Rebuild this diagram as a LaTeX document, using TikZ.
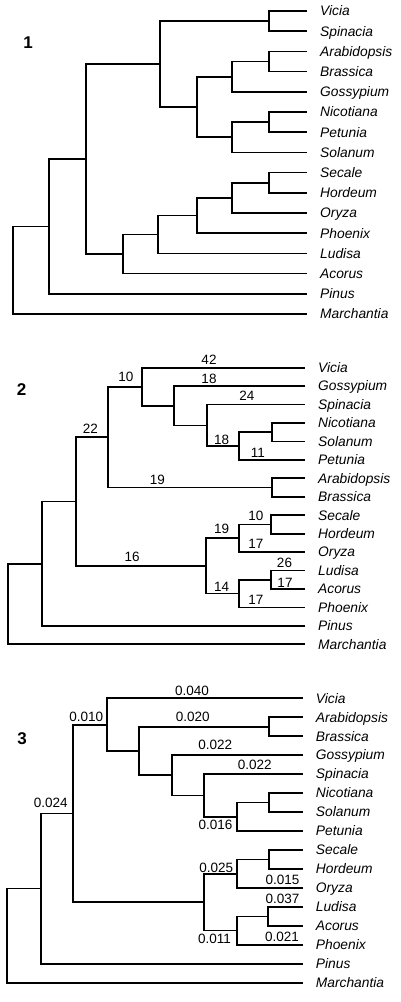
\documentclass[tikz,border=0pt]{standalone}
\usepackage{fontspec}
\setmainfont{Liberation Sans}
\begin{document}
\begin{tikzpicture}[x=1pt,y=-1pt,
  br/.style={line width=1.7pt,line join=miter},
  leaf/.style={anchor=base west,inner sep=0pt,font=\fontsize{13.8}{16}\selectfont\itshape},
  num/.style={anchor=base,inner sep=0pt,font=\fontsize{13.5}{16}\selectfont},
  panel/.style={anchor=base,inner sep=0pt,font=\fontsize{17}{20}\selectfont\bfseries}]
\path[use as bounding box] (0,0) rectangle (400,1002);

% ---------------- Tree 1 ----------------
\foreach \t [count=\i from 0] in {Vicia,Spinacia,Arabidopsis,Brassica,Gossypium,Nicotiana,Petunia,Solanum,Secale,Hordeum,Oryza,Phoenix,Ludisa,Acorus,Pinus,Marchantia}{
  \coordinate (a\i) at ({306.7},{11+20.2*\i});
  \node[leaf] (la\i) at ({320},{11+20.2*\i+4.8}) {\t};
}
\coordinate (aVS) at (269.3,21.1);
\coordinate (aAB) at (269.3,61.5);
\coordinate (aABG) at (232.3,76.65);
\coordinate (aNP) at (269.3,122.1);
\coordinate (aNPS) at (232.3,137.25);
\coordinate (aE2) at (196.7,106.95);
\coordinate (aEU) at (160,64.0);
\coordinate (aSH) at (269.3,182.7);
\coordinate (aSHO) at (232.3,197.85);
\coordinate (aSHOP) at (196.7,215.5);
\coordinate (aSL) at (158.3,234.45);
\coordinate (aMON) at (123.3,254.0);
\coordinate (aANG) at (86,159.0);
\coordinate (aSP) at (49.3,226.4);
\coordinate (aROOT) at (12.7,270.2);
\foreach \p/\c in {aVS/a0,aVS/a1,aAB/a2,aAB/a3,aABG/aAB,aABG/a4,aNP/a5,aNP/a6,aNPS/aNP,aNPS/a7,
  aE2/aABG,aE2/aNPS,aEU/aVS,aEU/aE2,aSH/a8,aSH/a9,aSHO/aSH,aSHO/a10,aSHOP/aSHO,aSHOP/a11,
  aSL/aSHOP,aSL/a12,aMON/aSL,aMON/a13,aANG/aEU,aANG/aMON,aSP/aANG,aSP/a14,aROOT/aSP,aROOT/a15}
  \draw[br] (\p) |- (\c);
\node[panel] (p1) at (28,48.8) {1};

% ---------------- Tree 2 ----------------
\foreach \t [count=\i from 0] in {Vicia,Gossypium,Spinacia,Nicotiana,Solanum,Petunia,Arabidopsis,Brassica,Secale,Hordeum,Oryza,Ludisa,Acorus,Phoenix,Pinus,Marchantia}{
  \coordinate (b\i) at ({305},{367.7+18.44*\i});
  \node[leaf] (lb\i) at ({318},{367.7+18.44*\i+4.8}) {\t};
}
\coordinate (bNS) at (271.7,432.25);
\coordinate (bNSP) at (239,446.1);
\coordinate (bSNSP) at (206.7,425.35);
\coordinate (bGS) at (174.3,405.7);
\coordinate (bVR) at (142.3,386.7);
\coordinate (bAB) at (271.7,487.55);
\coordinate (bEU) at (107.7,437.1);
\coordinate (bSH) at (271,524.45);
\coordinate (bSHO) at (239,538.3);
\coordinate (bLA) at (270.7,579.75);
\coordinate (bLAP) at (239,593.6);
\coordinate (bMON) at (205.7,565.95);
\coordinate (bANG) at (76,501.5);
\coordinate (bSP) at (41.7,563.7);
\coordinate (bROOT) at (8.3,604);
\foreach \p/\c in {bNS/b3,bNS/b4,bNSP/bNS,bNSP/b5,bSNSP/b2,bSNSP/bNSP,bGS/b1,bGS/bSNSP,bVR/b0,bVR/bGS,
  bAB/b6,bAB/b7,bEU/bVR,bEU/bAB,bSH/b8,bSH/b9,bSHO/bSH,bSHO/b10,bLA/b11,bLA/b12,bLAP/bLA,bLAP/b13,
  bMON/bSHO,bMON/bLAP,bANG/bEU,bANG/bMON,bSP/bANG,bSP/b14,bROOT/bSP,bROOT/b15}
  \draw[br] (\p) |- (\c);
\node[panel] (p2) at (21.7,395) {2};
\node[num] at (209,364.3) {42};
\node[num] at (126,381) {10};
\node[num] at (209,383.1) {18};
\node[num] at (247,400.4) {24};
\node[num] at (90.5,433.4) {22};
\node[num] at (221.7,444.8) {18};
\node[num] at (257.8,457.1) {11};
\node[num] at (157.5,484.1) {19};
\node[num] at (255.8,520.8) {10};
\node[num] at (221.7,533.8) {19};
\node[num] at (255.8,548.4) {17};
\node[num] at (132.2,561.1) {16};
\node[num] at (284.5,567.9) {26};
\node[num] at (285,587.6) {17};
\node[num] at (221.7,591.6) {14};
\node[num] at (255.8,604.3) {17};

% ---------------- Tree 3 ----------------
\foreach \t [count=\i from 0] in {Vicia,Arabidopsis,Brassica,Gossypium,Spinacia,Nicotiana,Solanum,Petunia,Secale,Hordeum,Oryza,Ludisa,Acorus,Phoenix,Pinus,Marchantia}{
  \coordinate (c\i) at ({303.3},{698.3+18.96*\i});
  \node[leaf] (lc\i) at ({315.7},{698.3+18.96*\i+4.8}) {\t};
}
\coordinate (cAB) at (269.3,726.75);
\coordinate (cNS) at (269.3,802.6);
\coordinate (cNSP) at (236.7,816.8);
\coordinate (cSNSP) at (204,795.45);
\coordinate (cGS) at (172.3,775.3);
\coordinate (cABR) at (139.3,751.0);
\coordinate (cVR) at (106.7,724.65);
\coordinate (cSH) at (269.3,859.45);
\coordinate (cSHO) at (236.7,873.7);
\coordinate (cLA) at (268.3,916.35);
\coordinate (cLAP) at (236.7,930.6);
\coordinate (cMON) at (204,902.15);
\coordinate (cANG) at (72.7,813.4);
\coordinate (cSP) at (40.7,888.55);
\coordinate (cROOT) at (7.3,935.6);
\foreach \p/\c in {cAB/c1,cAB/c2,cNS/c5,cNS/c6,cNSP/cNS,cNSP/c7,cSNSP/c4,cSNSP/cNSP,cGS/c3,cGS/cSNSP,
  cABR/cAB,cABR/cGS,cVR/c0,cVR/cABR,cSH/c8,cSH/c9,cSHO/cSH,cSHO/c10,cLA/c11,cLA/c12,cLAP/cLA,cLAP/c13,
  cMON/cSHO,cMON/cLAP,cANG/cVR,cANG/cMON,cSP/cANG,cSP/c14,cROOT/cSP,cROOT/c15}
  \draw[br] (\p) |- (\c);
\node[panel] (p3) at (22,744.6) {3};
\node[num] at (192,695.1) {0.040};
\node[num] at (86.2,721.3) {0.010};
\node[num] at (192.8,721.3) {0.020};
\node[num] at (215.3,749.9) {0.022};
\node[num] at (254.7,769.6) {0.022};
\node[num] at (50.8,807.9) {0.024};
\node[num] at (215.5,829.6) {0.016};
\node[num] at (216.2,872.1) {0.025};
\node[num] at (282.5,884.6) {0.015};
\node[num] at (282.5,903.6) {0.037};
\node[num] at (214.5,943.3) {0.011};
\node[num] at (282,941.3) {0.021};
\end{tikzpicture}
\end{document}
